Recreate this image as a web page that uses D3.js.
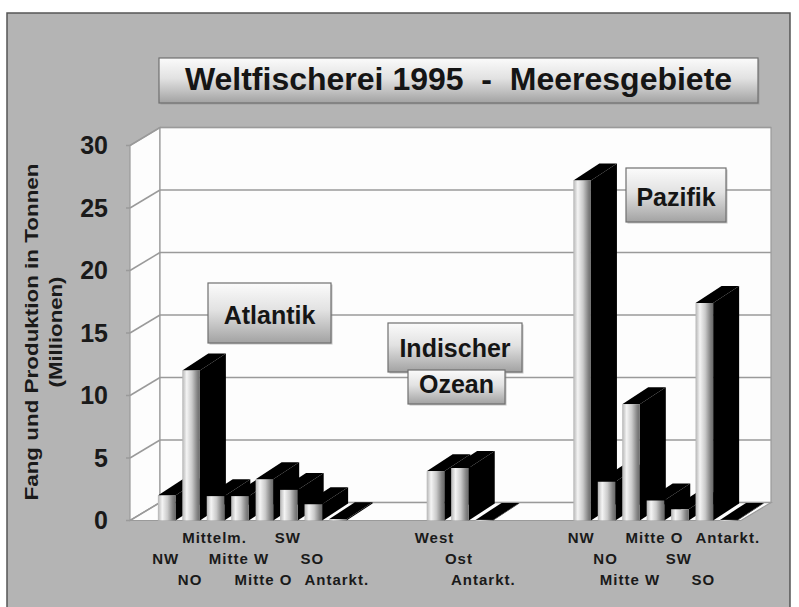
<!DOCTYPE html>
<html>
<head>
<meta charset="utf-8">
<script src="https://cdn.jsdelivr.net/npm/d3@7"></script>
<style>
  body { margin: 0; background: #fff; }
  svg { display: block; }
</style>
</head>
<body>
<div id="chart"></div>
<script>
// Weltfischerei 1995 (Mio. t) je Meeresgebiet
const atlantikLabels = ['NW', 'NO', 'Mittelm.', 'Mitte W', 'Mitte O', 'SW', 'SO', 'Antarkt.'];
const atlantikValues = [2.0, 12.0, 1.95, 1.95, 3.3, 2.45, 1.3, 0.1];
const indikLabels = ['West', 'Ost', 'Antarkt.'];
const indikValues = [3.95, 4.2, 0.05];
const pazifikLabels = ['NW', 'NO', 'Mitte W', 'Mitte O', 'SW', 'SO', 'Antarkt.'];
const pazifikValues = [27.2, 3.1, 9.3, 1.6, 0.9, 17.4, 0.05];
const yTicks = [0, 5, 10, 15, 20, 25, 30];
const gapSlots = 3;

// build slot list: one empty slot, then oceans separated by empty slots
const slots = [{label: '', value: null}];
function addGroup(labels, values) {
  labels.forEach(function(l, i) { slots.push({label: l, value: values[i]}); });
}
addGroup(atlantikLabels, atlantikValues);
for (let i = 0; i < gapSlots; i++) slots.push({label: '', value: null});
addGroup(indikLabels, indikValues);
for (let i = 0; i < gapSlots; i++) slots.push({label: '', value: null});
addGroup(pazifikLabels, pazifikValues);

const width = 799;
const height = 607;
const front = {left: 130, right: 741};
const wall = {dx: 30, dy: -18};
const bar = {dx: 26, dy: -17};

const svg = d3.select('#chart').append('svg')
  .attr('width', width)
  .attr('height', height);

const defs = svg.append('defs');
const barGrad = defs.append('linearGradient').attr('id', 'barGrad')
  .attr('x1', 0).attr('x2', 1).attr('y1', 0).attr('y2', 0);
[[0, '#b4b4b4'], [0.25, '#f4f4f4'], [0.55, '#cacaca'], [0.85, '#828282'], [1, '#6a6a6a']]
  .forEach(function(s) { barGrad.append('stop').attr('offset', s[0]).attr('stop-color', s[1]); });
const boxGrad = defs.append('linearGradient').attr('id', 'boxGrad')
  .attr('x1', 0).attr('x2', 0).attr('y1', 0).attr('y2', 1);
[[0, '#fbfbfb'], [0.45, '#e2e2e2'], [1, '#a2a2a2']]
  .forEach(function(s) { boxGrad.append('stop').attr('offset', s[0]).attr('stop-color', s[1]); });

const x = d3.scaleBand().domain(d3.range(slots.length))
  .range([front.left, front.right])
  .paddingInner(0.28).paddingOuter(0.14);
const y = d3.scaleLinear().domain([0, 30]).range([520.5, 145.5]);
const bw = x.bandwidth();

// outer panel
svg.append('rect').attr('x', 7).attr('y', 13).attr('width', 783).attr('height', 600)
  .attr('fill', '#b4b4b4').attr('stroke', '#555').attr('stroke-width', 1.5);

// walls and floor
const y0 = y(0);
const yTop = y(30);
const walls = svg.append('g').attr('fill', '#fdfdfd').attr('stroke', '#9a9a9a').attr('stroke-width', 1.2);
walls.append('polygon').attr('points', [
  [front.left, yTop], [front.left + wall.dx, yTop + wall.dy],
  [front.left + wall.dx, y0 + wall.dy], [front.left, y0]].join(' '));
walls.append('rect').attr('x', front.left + wall.dx).attr('y', yTop + wall.dy)
  .attr('width', front.right - front.left).attr('height', y0 - yTop);
walls.append('polygon').attr('points', [
  [front.left, y0], [front.left + wall.dx, y0 + wall.dy],
  [front.right + wall.dx, y0 + wall.dy], [front.right, y0]].join(' '));

// gridlines
const grid = svg.append('g').attr('stroke', '#9a9a9a').attr('stroke-width', 1.5).attr('fill', 'none');
grid.selectAll('line.back').data(yTicks).enter().append('line')
  .attr('x1', front.left + wall.dx).attr('x2', front.right + wall.dx)
  .attr('y1', function(d) { return y(d) + wall.dy; })
  .attr('y2', function(d) { return y(d) + wall.dy; });
grid.selectAll('line.side').data(yTicks).enter().append('line')
  .attr('x1', front.left).attr('x2', front.left + wall.dx)
  .attr('y1', function(d) { return y(d); })
  .attr('y2', function(d) { return y(d) + wall.dy; });
grid.selectAll('line.tick').data(yTicks).enter().append('line')
  .attr('x1', front.left - 4).attr('x2', front.left)
  .attr('y1', function(d) { return y(d); })
  .attr('y2', function(d) { return y(d); });

// bars, left to right so each bar covers its neighbour's side
const bars = svg.append('g');
slots.forEach(function(s, i) {
  if (s.value === null) return;
  const x0 = x(i);
  const x1 = x0 + bw;
  const yt = y(s.value);
  const yb = y(0);
  const g = bars.append('g');
  g.append('polygon').attr('fill', '#000').attr('points', [
    [x1, yb], [x1, yt], [x1 + bar.dx, yt + bar.dy], [x1 + bar.dx, yb + bar.dy]].join(' '));
  g.append('polygon').attr('fill', '#000').attr('points', [
    [x0, yt], [x0 + bar.dx, yt + bar.dy], [x1 + bar.dx, yt + bar.dy], [x1, yt]].join(' '));
  g.append('rect').attr('x', x0).attr('y', yt).attr('width', bw)
    .attr('height', Math.max(0.8, yb - yt)).attr('fill', 'url(#barGrad)');
});

// y tick labels
svg.append('g').selectAll('text').data(yTicks).enter().append('text')
  .attr('x', 108).attr('y', function(d) { return y(d); })
  .attr('dy', '0.35em').attr('text-anchor', 'end')
  .attr('font-family', 'Liberation Sans, Arial, sans-serif')
  .attr('font-weight', 'bold').attr('font-size', 25).attr('fill', '#1a1a1a')
  .text(function(d) { return d; });

// y axis title (two lines)
const yTitle = [
  {text: 'Fang und Produktion in Tonnen', x: 38, len: 337},
  {text: '(Millionen)', x: 62, len: 111}
];
svg.append('g').selectAll('text').data(yTitle).enter().append('text')
  .attr('transform', function(d) { return 'translate(' + d.x + ',332) rotate(-90)'; })
  .attr('text-anchor', 'middle')
  .attr('font-family', 'Liberation Sans, Arial, sans-serif')
  .attr('font-weight', 'bold').attr('font-size', 18).attr('fill', '#1a1a1a')
  .attr('textLength', function(d) { return d.len; })
  .attr('lengthAdjust', 'spacingAndGlyphs')
  .text(function(d) { return d.text; });

// staggered category labels
const rowBase = [543, 564, 585];
svg.append('g').selectAll('text').data(slots).enter().append('text')
  .attr('x', function(d, i) { return x(i) + bw / 2 - 1; })
  .attr('y', function(d, i) { return rowBase[i % 3]; })
  .attr('text-anchor', 'middle')
  .attr('font-family', 'Liberation Sans, Arial, sans-serif')
  .attr('font-weight', 'bold').attr('font-size', 15).attr('letter-spacing', 1)
  .attr('fill', '#1a1a1a')
  .text(function(d) { return d.label; });

// boxed labels
const boxes = [
  {text: 'Weltfischerei 1995\u00a0\u00a0-\u00a0\u00a0Meeresgebiete', x: 159, y: 58, w: 599, h: 45, base: 89.5, size: 32},
  {text: 'Atlantik', x: 208, y: 283, w: 123, h: 60, base: 324, size: 25},
  {text: 'Indischer', x: 388, y: 323, w: 134, h: 49, base: 357, size: 25},
  {text: 'Ozean', x: 408, y: 370, w: 97, h: 34, base: 393, size: 25},
  {text: 'Pazifik', x: 626, y: 168, w: 100, h: 54, base: 206, size: 25}
];
const boxG = svg.append('g').selectAll('g').data(boxes).enter().append('g');
boxG.append('rect')
  .attr('x', function(d) { return d.x + 1.5; }).attr('y', function(d) { return d.y + 1.5; })
  .attr('width', function(d) { return d.w; }).attr('height', function(d) { return d.h; })
  .attr('fill', '#8c8c8c').attr('opacity', 0.5);
boxG.append('rect')
  .attr('x', function(d) { return d.x; }).attr('y', function(d) { return d.y; })
  .attr('width', function(d) { return d.w; }).attr('height', function(d) { return d.h; })
  .attr('fill', 'url(#boxGrad)').attr('stroke', '#707070').attr('stroke-width', 1.2);
boxG.append('text')
  .attr('x', function(d) { return d.x + d.w / 2; })
  .attr('y', function(d) { return d.base; })
  .attr('text-anchor', 'middle')
  .attr('font-family', 'Liberation Sans, Arial, sans-serif')
  .attr('font-weight', 'bold')
  .attr('font-size', function(d) { return d.size; })
  .attr('fill', '#151515')
  .text(function(d) { return d.text; });
</script>
</body>
</html>
